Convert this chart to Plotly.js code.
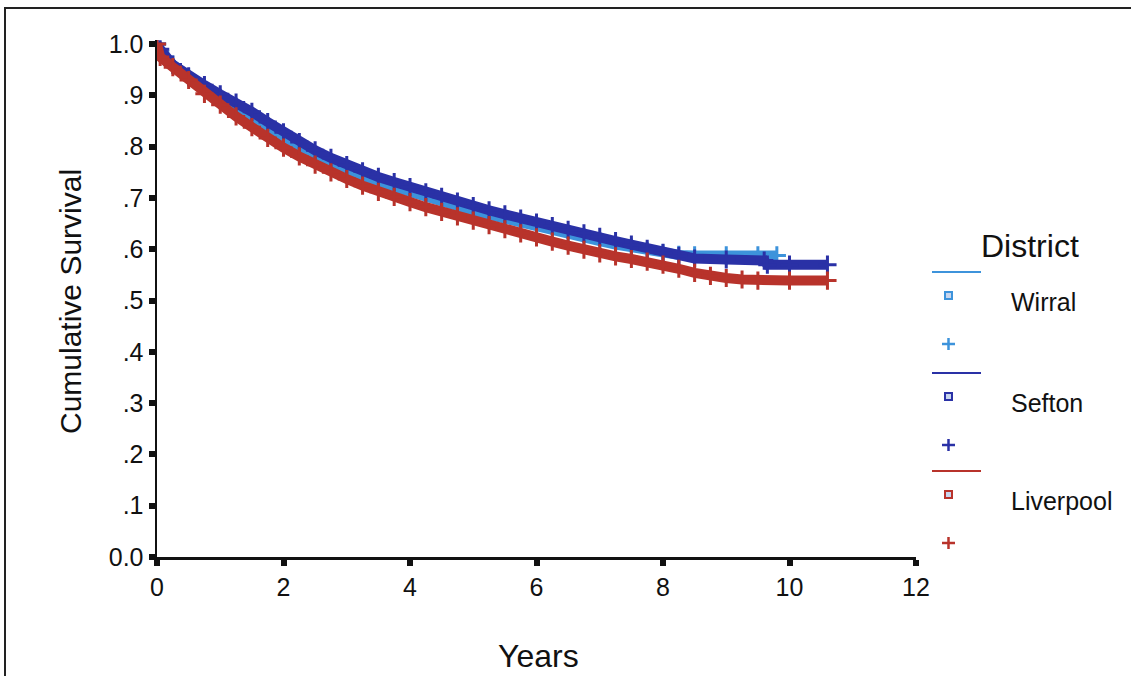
<!DOCTYPE html>
<html>
<head>
<meta charset="utf-8">
<script src="https://cdn.plot.ly/plotly-3.0.1.min.js"></script>
<style>
  html, body { margin: 0; padding: 0; background: #ffffff; }
  #chart { width: 1131px; height: 676px; }
</style>
</head>
<body>
<div id="chart"></div>
<script>
// Kaplan-Meier survival estimates by district (years since diagnosis)
const wirralYears = [0, 0.05, 0.25, 0.5, 0.75, 1.0, 1.25, 1.5, 1.75, 2.0, 2.25, 2.5, 2.75, 3.0, 3.25, 3.5, 3.75, 4.0, 4.25, 4.5, 4.75, 5.0, 5.25, 5.5, 5.75, 6.0, 6.25, 6.5, 6.75, 7.0, 7.25, 7.5, 7.75, 8.0, 8.25, 8.5, 9.0, 9.5, 9.8];
const wirralSurv  = [1.0, 0.985, 0.96, 0.935, 0.915, 0.895, 0.878, 0.86, 0.84, 0.818, 0.798, 0.783, 0.768, 0.754, 0.742, 0.731, 0.721, 0.711, 0.701, 0.692, 0.683, 0.675, 0.667, 0.659, 0.651, 0.644, 0.637, 0.63, 0.623, 0.616, 0.609, 0.603, 0.597, 0.592, 0.589, 0.588, 0.588, 0.588, 0.588];

const seftonYears = [0, 0.05, 0.25, 0.5, 0.75, 1.0, 1.25, 1.5, 1.75, 2.0, 2.25, 2.5, 2.75, 3.0, 3.25, 3.5, 3.75, 4.0, 4.25, 4.5, 4.75, 5.0, 5.25, 5.5, 5.75, 6.0, 6.25, 6.5, 6.75, 7.0, 7.25, 7.5, 7.75, 8.0, 8.25, 8.5, 9.0, 9.6, 9.65, 10.0, 10.6];
const seftonSurv  = [1.0, 0.99, 0.96, 0.937, 0.92, 0.902, 0.886, 0.868, 0.848, 0.828, 0.809, 0.793, 0.778, 0.764, 0.752, 0.741, 0.731, 0.721, 0.711, 0.702, 0.693, 0.684, 0.676, 0.668, 0.66, 0.652, 0.645, 0.638, 0.631, 0.624, 0.616, 0.609, 0.601, 0.593, 0.587, 0.582, 0.58, 0.578, 0.57, 0.57, 0.57];

const liverpoolYears = [0, 0.05, 0.25, 0.5, 0.75, 1.0, 1.25, 1.5, 1.75, 2.0, 2.25, 2.5, 2.75, 3.0, 3.25, 3.5, 3.75, 4.0, 4.25, 4.5, 4.75, 5.0, 5.25, 5.5, 5.75, 6.0, 6.25, 6.5, 6.75, 7.0, 7.25, 7.5, 7.75, 8.0, 8.25, 8.5, 8.75, 9.0, 9.25, 9.5, 10.0, 10.6];
const liverpoolSurv  = [1.0, 0.975, 0.955, 0.93, 0.903, 0.882, 0.859, 0.838, 0.817, 0.798, 0.781, 0.765, 0.75, 0.737, 0.724, 0.712, 0.702, 0.692, 0.682, 0.673, 0.664, 0.656, 0.647, 0.639, 0.631, 0.623, 0.615, 0.607, 0.599, 0.592, 0.586, 0.581, 0.576, 0.57, 0.562, 0.554, 0.548, 0.544, 0.541, 0.539, 0.539, 0.539];

const districts = ["Wirral", "Sefton", "Liverpool"];
const districtColors = ["#3d93db", "#2a31a6", "#b8332b"];

const yTickVals = [0, 0.1, 0.2, 0.3, 0.4, 0.5, 0.6, 0.7, 0.8, 0.9, 1.0];
const yTickText = ["0.0", ".1", ".2", ".3", ".4", ".5", ".6", ".7", ".8", ".9", "1.0"];
const xTickVals = [0, 2, 4, 6, 8, 10, 12];

const series = [
  { x: wirralYears, y: wirralSurv },
  { x: seftonYears, y: seftonSurv },
  { x: liverpoolYears, y: liverpoolSurv }
];

const FONT = "Liberation Sans, Arial, sans-serif";

const traces = series.map((s, i) => ({
  type: "scatter",
  mode: "lines+markers",
  name: districts[i],
  x: s.x,
  y: s.y,
  line: { color: districtColors[i], width: 10, shape: "linear" },
  marker: { symbol: "cross-thin-open", size: 13, color: districtColors[i], line: { color: districtColors[i], width: 3 } },
  showlegend: false,
  hoverinfo: "skip"
}));

// Figure geometry (pixels) used to place the hand-built legend and frame
const W = 1131, H = 676;
const M = { l: 157, r: 215, t: 40, b: 119 };
const plotW = W - M.l - M.r, plotH = H - M.t - M.b;
const px = v => (v - M.l) / plotW;
const py = v => (H - M.b - v) / plotH;

const shapes = [];
const annotations = [];

// Outer frame (left and top edges)
shapes.push({ type: "line", xref: "paper", yref: "paper", x0: px(5), x1: px(5), y0: py(8), y1: py(676), line: { color: "#222", width: 2 } });
shapes.push({ type: "line", xref: "paper", yref: "paper", x0: px(4), x1: px(1131), y0: py(8), y1: py(8), line: { color: "#222", width: 2 } });

// Legend: a line, a square and a plus sign for each district
annotations.push({ xref: "paper", yref: "paper", x: px(1030), y: py(246), text: "District", showarrow: false,
  xanchor: "center", yanchor: "middle", font: { family: FONT, size: 32, color: "#111" } });
const legendTop = [272, 373, 471];
districts.forEach((d, i) => {
  const c = districtColors[i];
  const y0 = legendTop[i];
  shapes.push({ type: "line", xref: "paper", yref: "paper", x0: px(932), x1: px(981), y0: py(y0), y1: py(y0), line: { color: c, width: 2 } });
  shapes.push({ type: "rect", xref: "paper", yref: "paper", x0: px(945), x1: px(952), y0: py(y0 + 20), y1: py(y0 + 27), line: { color: c, width: 2 }, fillcolor: "#c9d6ee" });
  shapes.push({ type: "line", xref: "paper", yref: "paper", x0: px(942), x1: px(955), y0: py(y0 + 72), y1: py(y0 + 72), line: { color: c, width: 2.5 } });
  shapes.push({ type: "line", xref: "paper", yref: "paper", x0: px(948.5), x1: px(948.5), y0: py(y0 + 66), y1: py(y0 + 78), line: { color: c, width: 2.5 } });
  annotations.push({ xref: "paper", yref: "paper", x: px(1009), y: py(y0 + 30), text: d, showarrow: false,
    xanchor: "left", yanchor: "middle", font: { family: FONT, size: 25, color: "#111" } });
});

// Axis titles
annotations.push({ xref: "paper", yref: "paper", x: px(538), y: py(656), text: "Years", showarrow: false,
  xanchor: "center", yanchor: "middle", font: { family: FONT, size: 32, color: "#111" } });
annotations.push({ xref: "paper", yref: "paper", x: px(70), y: py(302), text: "Cumulative Survival", showarrow: false,
  textangle: -90, xanchor: "center", yanchor: "middle", font: { family: FONT, size: 30, color: "#111" } });

const layout = {
  width: W, height: H,
  margin: M,
  paper_bgcolor: "#ffffff",
  plot_bgcolor: "#ffffff",
  showlegend: false,
  xaxis: {
    range: [0, 12], tickvals: xTickVals, ticktext: xTickVals.map(String),
    showgrid: false, zeroline: false, showline: true, linecolor: "#111", linewidth: 2.5,
    ticks: "outside", ticklen: 6, tickwidth: 6, tickcolor: "#111",
    tickfont: { family: FONT, size: 25, color: "#111" }, fixedrange: true
  },
  yaxis: {
    range: [0, 1.008], tickvals: yTickVals, ticktext: yTickText,
    showgrid: false, zeroline: false, showline: true, linecolor: "#111", linewidth: 2.5,
    ticks: "outside", ticklen: 6, tickwidth: 6, tickcolor: "#111",
    tickfont: { family: FONT, size: 25, color: "#111" }, fixedrange: true
  },
  shapes: shapes,
  annotations: annotations
};

Plotly.newPlot("chart", traces, layout, { displayModeBar: false, staticPlot: true });
</script>
</body>
</html>
